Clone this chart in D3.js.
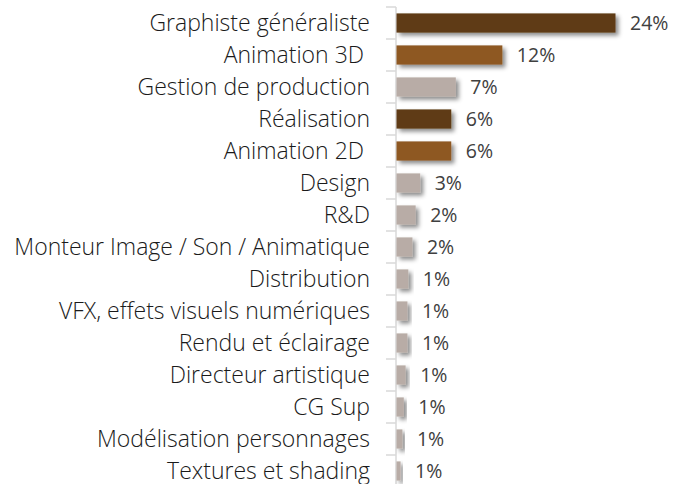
<!DOCTYPE html>
<html><head><meta charset="utf-8">
<script src="https://cdn.jsdelivr.net/npm/d3@7"></script>
<style>
html,body{margin:0;padding:0;background:#fff;}
svg{display:block;}
</style></head>
<body>
<script>
const categories = ["Graphiste généraliste","Animation 3D ","Gestion de production","Réalisation","Animation 2D ","Design","R&D","Monteur Image / Son / Animatique","Distribution","VFX, effets visuels numériques","Rendu et éclairage","Directeur artistique","CG Sup","Modélisation personnages","Textures et shading"];
const values = [24, 11.6, 6.5, 6.0, 6.0, 2.6, 2.1, 1.75, 1.3, 1.2, 1.2, 1.0, 0.8, 0.65, 0.45];
const valueLabels = ["24%","12%","7%","6%","6%","3%","2%","2%","1%","1%","1%","1%","1%","1%","1%"];
const barColors = ["#5E3A15","#8E5923","#B8ACA6","#5E3A15","#8E5923","#B8ACA6","#B8ACA6","#B8ACA6","#B8ACA6","#B8ACA6","#B8ACA6","#B8ACA6","#B8ACA6","#B8ACA6","#B8ACA6"];

const W = 674, H = 484;
const axisX = 396;
const svg = d3.select("body").append("svg").attr("width", W).attr("height", H);

const defs = svg.append("defs");
const f = defs.append("filter").attr("id","shadow").attr("x","-20%").attr("y","-40%").attr("width","160%").attr("height","200%");
f.append("feDropShadow").attr("dx",3).attr("dy",3).attr("stdDeviation",2.2).attr("flood-color","#000").attr("flood-opacity",0.45);

const y = d3.scaleBand().domain(categories).range([7, 7 + 32*categories.length]).paddingInner(0.4).paddingOuter(0.2);
const x = d3.scaleLinear().domain([0, 24]).range([axisX, 615]);

// axis line
svg.append("line").attr("x1", axisX).attr("x2", axisX).attr("y1", y.range()[0]).attr("y2", H)
  .attr("stroke", "#D9D9D9").attr("stroke-width", 1.5);
// boundary ticks
const step = y.step();
const edges = d3.range(categories.length + 1).map(i => y.range()[0] + i*step);
svg.selectAll("line.tick").data(edges).enter().append("line").attr("class","tick")
  .attr("x1", axisX - 10).attr("x2", axisX).attr("y1", d => d).attr("y2", d => d)
  .attr("stroke", "#D9D9D9").attr("stroke-width", 1.5);

// bars
svg.selectAll("rect.bar").data(categories).enter().append("rect").attr("class","bar")
  .attr("x", axisX + 0.5)
  .attr("y", d => y(d))
  .attr("width", (d,i) => x(values[i]) - axisX)
  .attr("height", y.bandwidth())
  .attr("fill", (d,i) => barColors[i])
  .attr("filter", "url(#shadow)");

// category labels
svg.selectAll("text.cat").data(categories).enter().append("text").attr("class","cat")
  .attr("x", 370).attr("y", d => y(d) + y.bandwidth()/2)
  .attr("dy", "0.35em").attr("text-anchor", "end")
  .style("font-family", "'Open Sans', 'Noto Sans', sans-serif")
  .style("font-size", "23px").style("font-weight", "300").attr("fill", "#1a1a1a")
  .attr("xml:space","preserve")
  .text(d => d);

// value labels
svg.selectAll("text.val").data(categories).enter().append("text").attr("class","val")
  .attr("x", (d,i) => x(values[i]) + 15).attr("y", d => y(d) + y.bandwidth()/2)
  .attr("dy", "0.36em")
  .style("font-family", "'Open Sans', 'Noto Sans', sans-serif")
  .style("font-size", "19.5px").style("font-weight", "500").attr("fill", "#404040")
  .text((d,i) => valueLabels[i]);
</script>
</body></html>
